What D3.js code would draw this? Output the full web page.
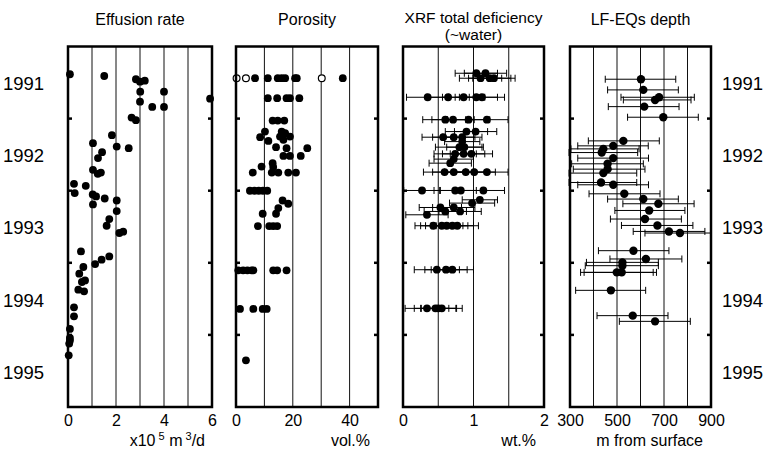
<!DOCTYPE html>
<html>
<head>
<meta charset="utf-8">
<script src="https://cdn.jsdelivr.net/npm/d3@7"></script>
<style>
  body { margin: 0; background: #fff; }
  text { font-family: "Liberation Sans", Arial, sans-serif; fill: #000; }
</style>
</head>
<body>
<div id="chart"></div>
<script>
// ---- data (decimal year, value) ----
const years = [1991, 1992, 1993, 1994, 1995];

const effusion = [
  [1991.385,0.08],[1991.409,1.51],[1991.454,2.83],[1991.474,3.2],[1991.488,3.0],
  [1991.626,3.01],[1991.626,4.0],[1991.723,5.92],[1991.765,3.0],[1991.838,3.51],
  [1991.838,4.0],[1991.986,2.65],[1992.022,2.83],[1992.230,1.83],[1992.341,1.04],
  [1992.388,2.03],[1992.410,2.53],[1992.465,1.42],[1992.548,1.25],[1992.711,1.04],
  [1992.748,1.37],[1992.766,1.24],[1992.904,0.25],[1992.932,0.74],[1993.033,0.28],
  [1993.053,1.03],[1993.080,1.17],[1993.108,1.53],[1993.136,2.03],[1993.191,1.04],
  [1993.283,2.03],[1993.393,1.72],[1993.486,1.61],[1993.569,2.3],[1993.587,2.14],
  [1993.842,0.54],[1993.911,1.72],[1993.957,1.4],[1994.017,1.13],[1994.058,0.64],
  [1994.151,0.47],[1994.244,0.71],[1994.266,0.58],[1994.373,0.43],[1994.396,0.67],
  [1994.618,0.25],[1994.742,0.25],[1994.917,0.08],[1995.042,0.08],[1995.079,0.08],
  [1995.120,0.05],[1995.283,0.03]
];

const porosity = [
  [1991.44,6.7],[1991.44,11.2],[1991.44,14.7],[1991.44,16.1],[1991.44,17.3],[1991.44,20.8],[1991.44,21.4],[1991.44,37.6],
  [1991.717,11.2],[1991.717,14.5],[1991.717,17.8],[1991.717,19],[1991.717,22.3],
  [1992.028,12.9],[1992.028,14.7],[1992.028,17.0],
  [1992.180,10.2],[1992.180,16.1],[1992.202,17.3],[1992.249,15.5],[1992.249,19.0],
  [1992.258,8.5],[1992.295,16.7],[1992.309,11.4],[1992.396,14.1],[1992.410,17.8],[1992.410,25.1],
  [1992.517,16.7],[1992.517,19.0],[1992.517,22.8],
  [1992.618,12.9],[1992.665,9.0],[1992.673,13.1],
  [1992.748,5.9],[1992.748,12.6],[1992.748,14.9],[1992.748,18.4],[1992.748,21.1],
  [1993.001,4.9],[1993.001,6.5],[1993.001,8.0],[1993.001,9.5],[1993.001,11.0],
  [1993.136,16.4],[1993.181,18.4],[1993.241,14.9],[1993.320,9.4],[1993.320,14.1],
  [1993.49,7.7],[1993.49,11.7],[1993.49,13.1],[1993.49,14.5],
  [1994.105,0.8],[1994.105,2.5],[1994.105,4.0],[1994.105,5.5],[1994.105,6.1],[1994.105,13.1],[1994.105,14.5],[1994.105,17.8],
  [1994.640,1.4],[1994.640,6.1],[1994.640,9.4],[1994.640,10.8],
  [1995.352,3.5]
];

const porosityOpen = [[1991.44,0.2],[1991.44,3.5],[1991.44,30.2]];

// [year, wt.%, error]
const xrf = [
  [1991.371,1.04,.3],[1991.371,1.17,.3],
  [1991.440,1.10,.3],[1991.440,1.23,.3],[1991.440,1.29,.3],
  [1991.704,0.35,.3],[1991.704,0.64,.3],[1991.704,0.86,.3],[1991.704,1.04,.3],[1991.704,1.12,.32],
  [1992.015,0.60,.32],[1992.015,0.71,.3],[1992.015,0.93,.3],[1992.015,1.19,.3],
  [1992.180,0.90,.3],[1992.180,1.03,.3],
  [1992.258,0.57,.3],[1992.258,0.72,.3],[1992.258,0.84,.28],
  [1992.319,0.84,.25],[1992.396,0.80,.34],[1992.396,0.87,.25],
  [1992.489,0.74,.3],[1992.489,0.86,.3],[1992.489,0.97,.3],
  [1992.562,0.72,.28],[1992.618,0.67,.3],
  [1992.742,0.59,.3],[1992.742,0.72,.3],[1992.742,0.89,.3],[1992.742,1.01,.3],[1992.742,1.19,.3],
  [1992.997,0.27,.26],[1992.997,0.74,.3],[1992.997,0.82,.3],[1992.997,1.14,.3],
  [1993.126,1.09,.25],[1993.172,0.98,.32],
  [1993.233,0.53,.3],[1993.233,0.72,.3],[1993.288,0.60,.3],[1993.288,0.81,.3],[1993.334,0.34,.3],
  [1993.486,0.43,.26],[1993.486,0.55,.3],[1993.486,0.62,.3],[1993.486,0.70,.3],[1993.486,0.77,.3],
  [1994.096,0.48,.32],[1994.096,0.61,.3],[1994.096,0.70,.3],
  [1994.632,0.34,.31],[1994.632,0.46,.3],[1994.632,0.50,.25],[1994.632,0.55,.29]
];

// [year, depth, low, high]
const lfeq = [
  [1991.454,602,450,750],[1991.602,612,460,761],[1991.704,679,517,829],[1991.741,662,527,815],
  [1991.834,616,463,764],[1991.981,697,545,846],[1992.309,527,378,680],[1992.378,484,333,633],
  [1992.420,442,304,594],[1992.471,435,296,588],[1992.548,484,333,634],[1992.627,460,307,612],
  [1992.701,460,314,619],[1992.756,442,296,584],[1992.886,432,296,584],[1992.918,484,333,634],
  [1993.043,531,381,683],[1993.116,612,460,761],[1993.181,676,525,828],[1993.274,637,491,789],
  [1993.393,619,472,774],[1993.482,672,519,823],[1993.565,721,569,874],[1993.587,768,619,900],
  [1993.832,570,421,721],[1993.947,623,470,776],[1993.994,523,370,676],[1994.040,523,365,676],
  [1994.133,499,345,654],[1994.133,520,360,668],[1994.382,474,324,622],[1994.733,567,415,717],
  [1994.812,662,510,812]
];

const effusionTicks = [0, 2, 4, 6];
const porosityTicks = [0, 20, 40];
const xrfTicks = [0, 1, 2];
const depthTicks = [300, 500, 700, 900];

// ---- layout ----
const width = 769, height = 451;
const plotTop = 46.5, plotBottom = 407;

const svg = d3.select("#chart").append("svg")
  .attr("width", width)
  .attr("height", height);

const y = d3.scaleLinear().domain([1991, 1996]).range([plotTop, plotBottom]);

const panels = [
  { left: 68,  right: 212, domain: [0, 6],     grid: [1,2,3,4,5],        ticks: effusionTicks, title: ["Effusion rate"] },
  { left: 236, right: 378, domain: [0, 50],    grid: [10,20,30,40],      ticks: porosityTicks, title: ["Porosity"] },
  { left: 403, right: 544, domain: [0, 2],     grid: [0.5,1,1.5],        ticks: xrfTicks,      title: ["XRF total deficiency", "(~water)"] },
  { left: 570, right: 711, domain: [300, 900], grid: [400,500,600,700,800], ticks: depthTicks, title: ["LF-EQs depth"] }
];

panels.forEach(p => {
  p.x = d3.scaleLinear().domain(p.domain).range([p.left, p.right]);
  const g = svg.append("g");
  p.g = g;

  // vertical grid lines
  g.selectAll("line.grid")
    .data(p.grid)
    .enter().append("line")
    .attr("x1", d => p.x(d)).attr("x2", d => p.x(d))
    .attr("y1", plotTop).attr("y2", plotBottom)
    .attr("stroke", "#111").attr("stroke-width", 1);

  // year ticks on both sides
  const inner = years.slice(1);
  [[p.left, 4], [p.right, -4]].forEach(([x0, dx]) => {
    g.selectAll(null)
      .data(inner)
      .enter().append("line")
      .attr("x1", x0).attr("x2", x0 + dx)
      .attr("y1", d => y(d)).attr("y2", d => y(d))
      .attr("stroke", "#000").attr("stroke-width", 2.5);
  });

  // bottom tick labels
  const axis = d3.axisBottom(p.x).tickValues(p.ticks).tickFormat(d3.format("d"))
    .tickSize(0).tickPadding(0);
  const ax = g.append("g")
    .attr("transform", `translate(0,${plotBottom + 7})`)
    .call(axis);
  ax.select(".domain").remove();
  ax.selectAll("text")
    .attr("font-size", 16)
    .attr("font-family", "Liberation Sans, Arial, sans-serif")
    .attr("dy", "0.76em");

  // titles
  const two = p.title.length > 1;
  p.title.forEach((t, i) => {
    g.append("text")
      .attr("x", (p.left + p.right) / 2)
      .attr("y", two ? 23 + i * 17 : 25)
      .attr("text-anchor", "middle")
      .attr("font-size", two ? 15.5 : 16)
      .text(t);
  });
});

// units
const unitY = 446;
const u1 = svg.append("text").attr("x", panels[0].right - 7).attr("y", unitY)
  .attr("text-anchor", "end").attr("font-size", 16);
u1.append("tspan").text("x10");
u1.append("tspan").attr("dy", -6).attr("font-size", 11).text(" 5");
u1.append("tspan").attr("dy", 6).text(" m");
u1.append("tspan").attr("dy", -6).attr("font-size", 11).text(" 3");
u1.append("tspan").attr("dy", 6).text("/d");

[["vol.%", 1], ["wt.%", 2], ["m from surface", 3]].forEach(([t, i]) => {
  svg.append("text")
    .attr("x", panels[i].right - 8)
    .attr("y", unitY)
    .attr("text-anchor", "end")
    .attr("font-size", 16)
    .text(t);
});

// year labels
svg.selectAll("text.yl")
  .data(years)
  .enter().append("text")
  .attr("x", 3)
  .attr("y", d => y(d + 0.5) + 1)
  .attr("dy", "0.36em")
  .attr("font-size", 18.5)
  .text(d => d);
svg.selectAll("text.yr")
  .data(years)
  .enter().append("text")
  .attr("x", 722)
  .attr("y", d => y(d + 0.5) + 1)
  .attr("dy", "0.36em")
  .attr("font-size", 18.5)
  .text(d => d);

// error bars helper
function errorBars(g, data, x, lo, hi, yy) {
  const eb = g.selectAll(null).data(data).enter().append("g");
  eb.append("line")
    .attr("x1", d => x(lo(d))).attr("x2", d => x(hi(d)))
    .attr("y1", d => y(yy(d))).attr("y2", d => y(yy(d)))
    .attr("stroke", "#000").attr("stroke-width", 1);
  eb.append("line")
    .attr("x1", d => x(lo(d))).attr("x2", d => x(lo(d)))
    .attr("y1", d => y(yy(d)) - 3.5).attr("y2", d => y(yy(d)) + 3.5)
    .attr("stroke", "#000").attr("stroke-width", 1);
  eb.append("line")
    .attr("x1", d => x(hi(d))).attr("x2", d => x(hi(d)))
    .attr("y1", d => y(yy(d)) - 3.5).attr("y2", d => y(yy(d)) + 3.5)
    .attr("stroke", "#000").attr("stroke-width", 1);
}

// effusion rate
panels[0].g.selectAll("circle")
  .data(effusion).enter().append("circle")
  .attr("cx", d => panels[0].x(d[1])).attr("cy", d => y(d[0]))
  .attr("r", 3.9).attr("fill", "#000");

// porosity
panels[1].g.selectAll("circle.f")
  .data(porosity).enter().append("circle")
  .attr("cx", d => panels[1].x(d[1])).attr("cy", d => y(d[0]))
  .attr("r", 3.9).attr("fill", "#000");
panels[1].g.selectAll("circle.o")
  .data(porosityOpen).enter().append("circle")
  .attr("cx", d => panels[1].x(d[1])).attr("cy", d => y(d[0]))
  .attr("r", 3.4).attr("fill", "#fff").attr("stroke", "#000").attr("stroke-width", 1.2);

// XRF
errorBars(panels[2].g, xrf, panels[2].x, d => Math.max(0, d[1] - d[2]), d => d[1] + d[2], d => d[0]);
panels[2].g.selectAll("circle")
  .data(xrf).enter().append("circle")
  .attr("cx", d => panels[2].x(d[1])).attr("cy", d => y(d[0]))
  .attr("r", 3.9).attr("fill", "#000");

// LF-EQs depth
errorBars(panels[3].g, lfeq, panels[3].x, d => d[2], d => d[3], d => d[0]);
panels[3].g.selectAll("circle")
  .data(lfeq).enter().append("circle")
  .attr("cx", d => panels[3].x(d[1])).attr("cy", d => y(d[0]))
  .attr("r", 4.2).attr("fill", "#000");

// frames
panels.forEach(p => {
  svg.append("rect")
    .attr("x", p.left).attr("y", plotTop)
    .attr("width", p.right - p.left).attr("height", plotBottom - plotTop)
    .attr("fill", "none").attr("stroke", "#000").attr("stroke-width", 2.5);
});
</script>
</body>
</html>
